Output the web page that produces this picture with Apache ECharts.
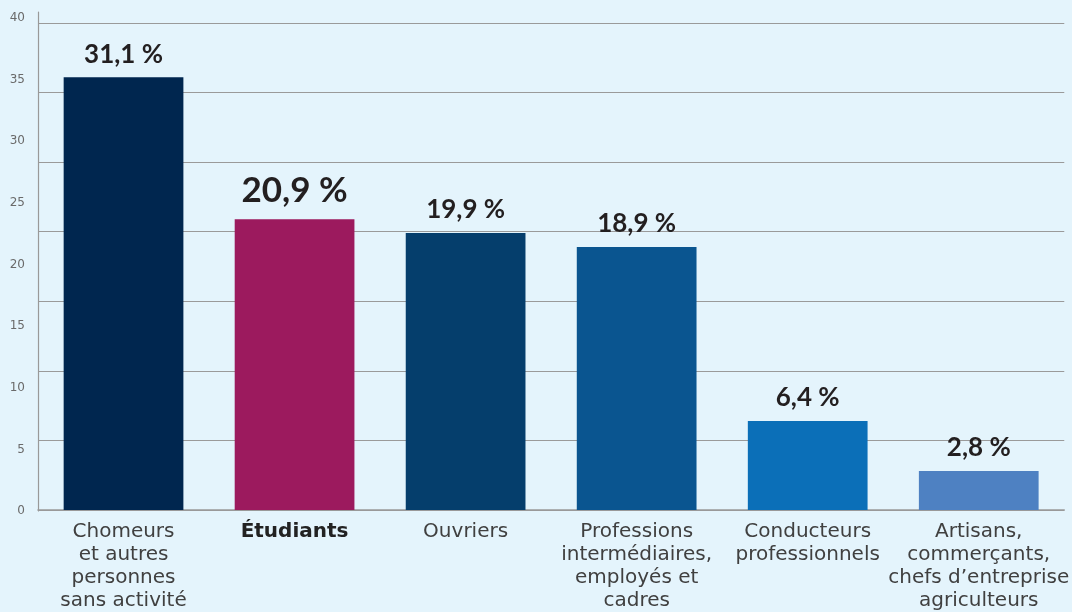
<!DOCTYPE html>
<html>
<head>
<meta charset="utf-8">
<script src="https://cdn.jsdelivr.net/npm/echarts@6/dist/echarts.min.js"></script>
<style>
html,body{margin:0;padding:0;background:#e4f4fc;}
#main{width:1072px;height:612px;}
</style>
</head>
<body>
<div id="main"></div>
<script>
// ---- data ----
const categories = [
  "Chomeurs\net autres\npersonnes\nsans activité",
  "Étudiants",
  "Ouvriers",
  "Professions\nintermédiaires,\nemployés et\ncadres",
  "Conducteurs\nprofessionnels",
  "Artisans,\ncommerçants,\nchefs d’entreprise\nagriculteurs"
];
const values = [31.1, 20.9, 19.9, 18.9, 6.4, 2.8];
const highlightIndex = 1;
const barColors = ["#00264f", "#9c1a5e", "#053e6c", "#0a5590", "#0b6fb8", "#4e81c2"];
const labelAxisMax = 40;   // printed tick labels 0 … 40
const labelAxisStep = 5;
const barAxisMax = 35;     // gridline scale 0 … 35
const barAxisStep = 5;

const fmt = v => v.toFixed(1).replace('.', ',') + ' %';

const chart = echarts.init(document.getElementById('main'), null, {renderer: 'canvas'});
const option = {
  backgroundColor: '#e4f4fc',
  animation: false,
  grid: [
    {left: 38, right: 5, top: 23, bottom: 102},
    {left: 38, right: 5, top: 12, bottom: 101}
  ],
  xAxis: [
    {
      type: 'category', gridIndex: 0,
      data: categories.map((c, i) => i === highlightIndex
        ? {value: c, textStyle: {fontWeight: 'bold', color: '#222'}}
        : c),
      axisLine: {show: true, lineStyle: {color: '#999', width: 1.5}},
      axisTick: {show: false},
      axisLabel: {
        interval: 0, fontFamily: 'DejaVu Sans', fontSize: 20, lineHeight: 23,
        color: '#404040', margin: 10
      }
    },
    {type: 'value', gridIndex: 1, show: false, min: 0, max: 1}
  ],
  yAxis: [
    {
      type: 'value', gridIndex: 0, min: 0, max: barAxisMax, interval: barAxisStep,
      axisLabel: {show: false},
      axisLine: {show: false},
      axisTick: {show: false},
      splitLine: {show: true, lineStyle: {color: '#9a9a9a', width: 1.2}}
    },
    {
      type: 'value', gridIndex: 1, min: 0, max: labelAxisMax * 499 / 493, interval: labelAxisStep,
      axisLine: {show: true, lineStyle: {color: '#999', width: 1.2}},
      axisTick: {show: false},
      splitLine: {show: false},
      axisLabel: {
        fontFamily: 'DejaVu Sans', fontSize: 12, color: '#6a6a6a', margin: 13,
        showMaxLabel: false,
        formatter: v => (Math.abs(v % labelAxisStep) < 1e-6 && v <= labelAxisMax) ? String(v) : ''
      }
    }
  ],
  series: [{
    type: 'bar', xAxisIndex: 0, yAxisIndex: 0,
    barWidth: '70%',
    data: values.map((v, i) => ({
      value: v,
      itemStyle: {color: barColors[i]},
      label: i === highlightIndex ? {fontSize: 35, distance: 11} : undefined
    })),
    label: {
      show: true, position: 'top', distance: 10,
      fontFamily: 'Lato', fontWeight: 'bold', fontSize: 26, color: '#231f20',
      formatter: p => fmt(p.value)
    }
  }]
};
chart.setOption(option);
</script>
</body>
</html>
